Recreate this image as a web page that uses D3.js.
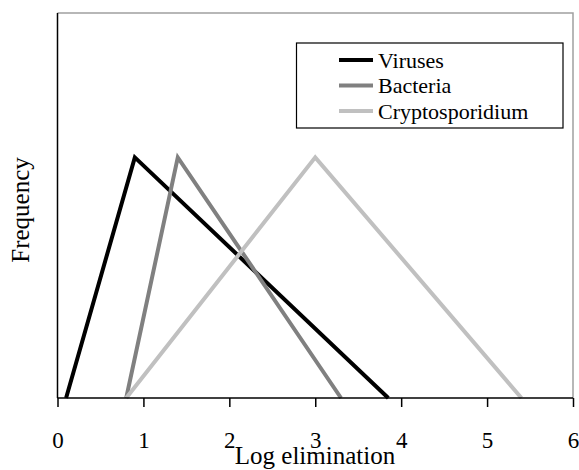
<!DOCTYPE html>
<html><head><meta charset="utf-8">
<script src="https://cdn.jsdelivr.net/npm/d3@7"></script>
<style>body{margin:0;background:#fff}svg{display:block}text{font-family:"Liberation Serif","Times New Roman",serif}</style>
</head><body>
<svg id="c" width="579" height="470"></svg>
<script>
const seriesNames = ["Viruses", "Bacteria", "Cryptosporidium"];
const seriesColors = ["#000000", "#808080", "#c0c0c0"];
const virusesX = [0.1, 0.9, 3.85];
const bacteriaX = [0.8, 1.4, 3.3];
const cryptoX = [0.8, 3.0, 5.4];
const freqY = [0, 1, 0];
const xTicks = [0, 1, 2, 3, 4, 5, 6];

const svg = d3.select("#c");
const L = 57.5, R = 573, T = 13, B = 398;
const x = d3.scaleLinear().domain([0, 6]).range([L, R]);
const y = d3.scaleLinear().domain([0, 1.6]).range([B, T]);

// plot border (top/right grey)
svg.append("path").attr("d", `M${L},${T}H${R}V${B}`).attr("fill", "none").attr("stroke", "#a0a0a0").attr("stroke-width", 1.5);

const allX = [virusesX, bacteriaX, cryptoX];
const line = d3.line().x(d => x(d[0])).y(d => y(d[1]));
allX.forEach((xs, i) => {
  const pts = xs.map((v, j) => [v, freqY[j]]);
  svg.append("path").attr("d", line(pts)).attr("fill", "none")
    .attr("stroke", seriesColors[i]).attr("stroke-width", 4).attr("stroke-linejoin", "miter");
});

// axes
const xAxis = d3.axisBottom(x).tickValues(xTicks).tickSize(9).tickPadding(0).tickFormat(d3.format("d"));
const gx = svg.append("g").attr("transform", `translate(0,${B})`).call(xAxis);
gx.select(".domain").attr("stroke", "#000").attr("stroke-width", 1.5).attr("d", `M${L},0H${R}`);
gx.selectAll(".tick line").attr("stroke", "#000").attr("stroke-width", 1.5);
gx.selectAll(".tick text").attr("font-size", 23).attr("fill", "#000").attr("font-family", "Liberation Serif")
  .attr("dy", null).attr("y", 50);

svg.append("line").attr("x1", L).attr("x2", L).attr("y1", T).attr("y2", B).attr("stroke", "#000").attr("stroke-width", 1.5);

svg.append("text").attr("x", 315).attr("y", 464).attr("text-anchor", "middle").attr("font-size", 25).text("Log elimination");
svg.append("text").attr("transform", "translate(29,210) rotate(-90)").attr("text-anchor", "middle").attr("font-size", 25).text("Frequency");

// legend
const lg = svg.append("g");
lg.append("rect").attr("x", 296.5).attr("y", 43).attr("width", 266.5).attr("height", 85).attr("fill", "#fff").attr("stroke", "#000").attr("stroke-width", 1.2);
seriesNames.forEach((n, i) => {
  const yy = 60 + i * 25.5;
  lg.append("line").attr("x1", 339).attr("x2", 373).attr("y1", yy).attr("y2", yy).attr("stroke", seriesColors[i]).attr("stroke-width", 4);
  lg.append("text").attr("x", 378).attr("y", yy + 7.5).attr("font-size", 22).text(n);
});
</script>
</body></html>
